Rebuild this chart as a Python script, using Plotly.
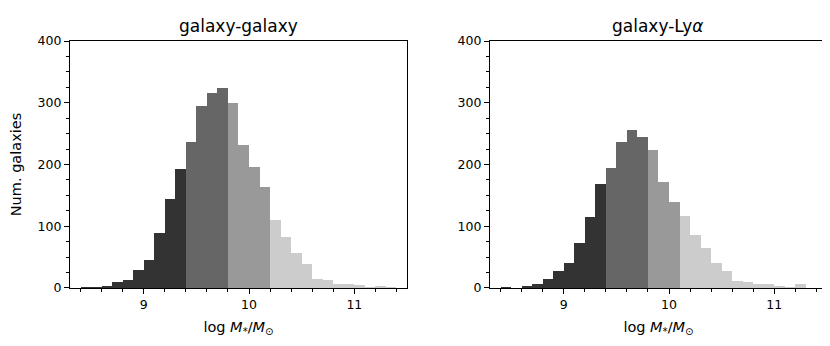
import numpy as np
import plotly.graph_objects as go

# histogram bins (left edges, width 0.1 dex)
bin_lo = 8.4
bin_width = 0.1
counts_gg = [1, 1, 3, 9, 13, 29, 46, 89, 144, 193, 236, 295, 316, 324, 300,
             231, 196, 163, 110, 83, 57, 39, 15, 13, 7, 7, 5, 1, 4, 1]
counts_gl = [1, 0, 4, 7, 14, 27, 40, 73, 115, 169, 194, 236, 256, 245, 224,
             171, 140, 116, 86, 64, 41, 27, 12, 10, 6, 6, 4, 1, 6, 0]
# mass-bin splits for the grey shading
splits_gg = [9.4, 9.8, 10.2]
splits_gl = [9.4, 9.8, 10.1]
greys = ["#333333", "#666666", "#999999", "#cccccc"]

panel_titles = ["galaxy-galaxy", "galaxy-Ly<i>α</i>"]
x_title = "log <i>M</i><sub>*</sub>/<i>M</i><sub>⊙</sub>"
y_title = "Num. galaxies"

FONT = "DejaVu Sans"


def centers(n):
    return np.round(bin_lo + bin_width * (np.arange(n) + 0.5), 3)


def colours(xc, splits):
    return [greys[int(np.searchsorted(splits, x))] for x in xc]


fig = go.Figure()
x_domains = [[0.0747, 0.4807], [0.5807, 0.9867]]
y_domain = [0.1908, 0.9046]

for i, (cnt, spl) in enumerate([(counts_gg, splits_gg), (counts_gl, splits_gl)]):
    xc = centers(len(cnt))
    sfx = "" if i == 0 else "2"
    fig.add_trace(go.Bar(
        x=xc, y=cnt, width=bin_width,
        marker=dict(color=colours(xc, spl), line=dict(width=0)),
        xaxis="x" + sfx, yaxis="y" + sfx, showlegend=False))

axis_common = dict(showline=True, linecolor="black", linewidth=1.2, mirror=True,
                   ticks="outside", ticklen=5, tickwidth=1, tickcolor="black",
                   showgrid=False, zeroline=False, automargin=False,
                   tickfont=dict(family=FONT, size=12.5, color="black"))

for i in range(2):
    sfx = "" if i == 0 else "2"
    fig.update_layout(**{
        "xaxis" + sfx: dict(axis_common, domain=x_domains[i], range=[8.3, 11.5],
                            anchor="y" + sfx, tickvals=[9, 10, 11],
                            minor=dict(tick0=8.4, dtick=0.2, ticks="outside",
                                       ticklen=2.5, tickwidth=1, tickcolor="black"),
                            title=dict(text=x_title, standoff=10,
                                       font=dict(family=FONT, size=14.5, color="black"))),
        "yaxis" + sfx: dict(axis_common, domain=y_domain, range=[0, 400],
                            anchor="x" + sfx, tickvals=[0, 100, 200, 300, 400],
                            minor=dict(dtick=25, ticks="outside", ticklen=2.5,
                                       tickwidth=1, tickcolor="black")),
    })
    cx = (x_domains[i][0] + x_domains[i][1]) / 2
    fig.add_annotation(text=panel_titles[i], xref="paper", yref="paper",
                       x=cx, y=y_domain[1] + 0.009, xanchor="center", yanchor="bottom",
                       showarrow=False, font=dict(family=FONT, size=17, color="black"))

fig.update_layout(yaxis_title=dict(text=y_title, standoff=14,
                                   font=dict(family=FONT, size=14.5, color="black")))

fig.update_layout(width=830, height=346, margin=dict(l=0, r=0, t=0, b=0),
                  plot_bgcolor="white", paper_bgcolor="white", bargap=0)

fig.write_html("out.html")
